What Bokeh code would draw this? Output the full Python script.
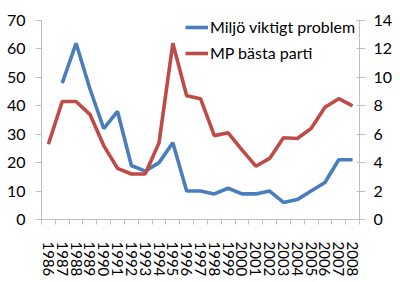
import math
from bokeh.plotting import figure
from bokeh.models import Range1d, LinearAxis, FixedTicker, Legend, LegendItem
from bokeh.embed import file_html
from bokeh.resources import INLINE

years = list(range(1986, 2009))
miljo = [float("nan"), 48, 62, 46, 32, 38, 19, 17, 20, 27, 10, 10, 9, 11, 9, 9, 10, 6, 7, 10, 13, 21, 21]
mp = [5.3, 8.3, 8.3, 7.4, 5.2, 3.6, 3.2, 3.2, 5.4, 12.4, 8.7, 8.5, 5.9, 6.1, 4.9, 3.75, 4.3, 5.75, 5.7, 6.4, 7.9, 8.5, 8.0]
left_ticks = [0, 10, 20, 30, 40, 50, 60, 70]
right_ticks = [0, 2, 4, 6, 8, 10, 12, 14]
label_miljo = "Miljö viktigt problem"
label_mp = "MP bästa parti"

FONT = "Lato"
FS = "16px"
AXIS_COLOR = "#bfbfbf"
BLUE = "#4a7ebb"
RED = "#be4b48"

# frame extends 10px above the top tick so the legend is not clipped
TOP_PAD = 10
PLOT_H = 199
left_max = left_ticks[-1]
right_max = right_ticks[-1]

p = figure(width=400, height=282, output_backend="svg", toolbar_location=None,
           x_range=Range1d(years[0] - 0.5, years[-1] + 0.5),
           y_range=Range1d(0, left_max * (1 + TOP_PAD / PLOT_H)),
           min_border_left=41, min_border_right=41, min_border_top=20 - TOP_PAD, min_border_bottom=63,
           y_axis_location=None, x_axis_location=None)
p.outline_line_color = None
p.xgrid.visible = False
p.ygrid.visible = False
p.extra_y_ranges = {"right": Range1d(0, right_max * (1 + TOP_PAD / PLOT_H))}

xax = LinearAxis(ticker=FixedTicker(ticks=years, minor_ticks=[y - 0.5 for y in years] + [years[-1] + 0.5]))
xax.major_tick_line_color = None
xax.major_tick_out = 0
xax.major_tick_in = 0
xax.minor_tick_line_color = AXIS_COLOR
xax.minor_tick_out = 5
xax.minor_tick_in = 0
xax.axis_line_color = AXIS_COLOR
xax.major_label_orientation = -math.pi / 2
xax.major_label_standoff = 17
xax.major_label_text_font = FONT
xax.major_label_text_font_size = "15px"
xax.major_label_text_color = "black"
p.add_layout(xax, "below")

lax = LinearAxis(ticker=FixedTicker(ticks=left_ticks), bounds=(0, left_max))
lax.axis_line_color = AXIS_COLOR
lax.major_tick_line_color = AXIS_COLOR
lax.major_tick_out = 6
lax.major_tick_in = 0
lax.minor_tick_line_color = None
lax.major_label_standoff = 10
lax.major_label_text_font = FONT
lax.major_label_text_font_size = FS
lax.major_label_text_color = "black"
p.add_layout(lax, "left")

rax = LinearAxis(y_range_name="right", ticker=FixedTicker(ticks=right_ticks), bounds=(0, right_max))
rax.axis_line_color = AXIS_COLOR
rax.major_tick_line_color = AXIS_COLOR
rax.major_tick_out = 6
rax.major_tick_in = 3
rax.minor_tick_line_color = None
rax.major_label_standoff = 8
rax.major_label_text_font = FONT
rax.major_label_text_font_size = FS
rax.major_label_text_color = "black"
p.add_layout(rax, "right")

r1 = p.line(years, miljo, line_color=BLUE, line_width=3.6)
r2 = p.line(years, mp, line_color=RED, line_width=3.6, y_range_name="right")

legend = Legend(items=[LegendItem(label=label_miljo, renderers=[r1]),
                       LegendItem(label=label_mp, renderers=[r2])],
                location=(144, 157))
legend.border_line_color = None
legend.background_fill_alpha = 0
legend.padding = 0
legend.margin = 0
legend.spacing = 7
legend.glyph_width = 23
legend.glyph_height = 18
legend.label_height = 18
legend.label_standoff = 2
legend.label_text_font = FONT
legend.label_text_font_size = FS
legend.label_text_color = "black"
p.add_layout(legend, "center")

open("out.html", "w").write(file_html(p, INLINE))
